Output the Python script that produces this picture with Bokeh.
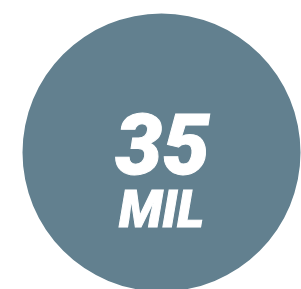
from bokeh.plotting import figure
from bokeh.models import Range1d, ColumnDataSource
from bokeh.core.properties import value
from bokeh.embed import file_html
from bokeh.resources import INLINE

values = ["35"]
units = ["MIL"]

W, H = 301, 289
p = figure(width=W, height=H, output_backend="svg", toolbar_location=None,
           x_range=Range1d(0, W), y_range=Range1d(0, H), min_border=0)
p.axis.visible = False
p.grid.visible = False
p.outline_line_color = None
p.background_fill_color = "white"
p.border_fill_color = "white"

cx, cy, r = 161, H - 152, 139
src = ColumnDataSource(dict(x=[cx], y=[cy], v=values, u=units))
p.circle(x="x", y="y", radius=r, source=src, fill_color="#62808f", line_color=None)

p.text(x="x", y="y", text="v", source=src, x_offset=1, y_offset=-9,
       text_font=value("Roboto Black"), text_font_style="bold italic",
       text_font_size="84px", text_color="white", text_outline_color="white",
       text_align="center", text_baseline="middle")
p.text(x="x", y="y", text="u", source=src, x_offset=0, y_offset=57,
       text_font=value("Roboto Black"), text_font_style="bold italic",
       text_font_size="51px", text_color="white", text_outline_color="white",
       text_align="center", text_baseline="middle")

open("out.html", "w").write(file_html(p, INLINE))
